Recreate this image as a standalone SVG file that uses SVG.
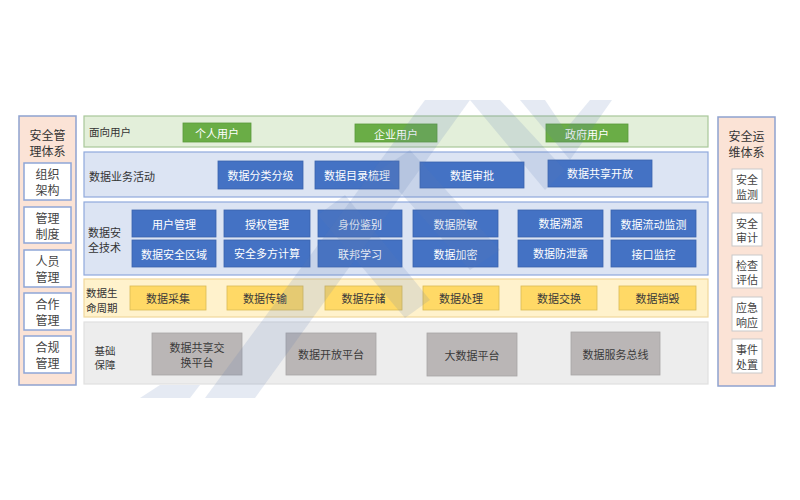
<svg xmlns="http://www.w3.org/2000/svg" width="800" height="500" viewBox="0 0 800 500">
<style>
text{font-family:"Noto Sans CJK SC","Noto Sans",sans-serif;text-anchor:middle;dominant-baseline:central}
.side{fill:#fbe3d6;stroke:#8fa2cf;stroke-width:1.5}
.sidettl{font-size:12px;fill:#333}
.lbox{fill:#ffffff;stroke:#8ea6d8;stroke-width:1.5}
.rbox{fill:#ffffff;stroke:#c9c9c9;stroke-width:1}
.st{font-size:12px;fill:#444}
.rt{font-size:11px;fill:#444}
.band{stroke-width:1.2}
.g{fill:#e3efda;stroke:#a8c79a}
.b{fill:#dce4f3;stroke:#8fa9dc}
.y{fill:#fff2cc;stroke:#f1d89c}
.k{fill:#ededed;stroke:#e0e0e0}
.lab{font-size:10.5px;fill:#333;text-anchor:start}
.gb{fill:#6aad46;stroke:#5b9a3b;stroke-width:0.8}
.bb{fill:#4472c4;stroke:#3a63ad;stroke-width:0.8}
.yb{fill:#ffd966;stroke:#d9bb55;stroke-width:0.8}
.kb{fill:#bab6b6;stroke:#a9a5a5;stroke-width:0.8}
.wt{font-size:11px;fill:#ffffff}
.dt{font-size:11px;fill:#3a3a3a}
.wm{fill:#5f7fb5;opacity:0.16}
</style>
<rect width="800" height="500" fill="#ffffff"/>

<g id="left-panel">
<rect class="side" x="19" y="116" width="57" height="269"/>
<text class="sidettl" x="47.5" y="134">安全管</text>
<text class="sidettl" x="47.5" y="150">理体系</text>
<g id="l1"><rect class="lbox" x="24" y="163" width="47" height="37"/><text class="st" x="47.5" y="173.5">组织</text><text class="st" x="47.5" y="189.5">架构</text></g>
<g id="l2"><rect class="lbox" x="24" y="207" width="47" height="36"/><text class="st" x="47.5" y="217">管理</text><text class="st" x="47.5" y="233">制度</text></g>
<g id="l3"><rect class="lbox" x="24" y="250" width="47" height="37"/><text class="st" x="47.5" y="260.5">人员</text><text class="st" x="47.5" y="276.5">管理</text></g>
<g id="l4"><rect class="lbox" x="24" y="293" width="47" height="37"/><text class="st" x="47.5" y="303.5">合作</text><text class="st" x="47.5" y="319.5">管理</text></g>
<g id="l5"><rect class="lbox" x="24" y="336" width="47" height="37"/><text class="st" x="47.5" y="346.5">合规</text><text class="st" x="47.5" y="362.5">管理</text></g>
</g>

<g id="right-panel">
<rect class="side" x="718" y="117" width="57" height="269"/>
<text class="sidettl" x="746.5" y="135">安全运</text>
<text class="sidettl" x="746.5" y="151">维体系</text>
<g id="r1"><rect class="rbox" x="732" y="169" width="30" height="34"/><text class="rt" x="747" y="179">安全</text><text class="rt" x="747" y="193.5">监测</text></g>
<g id="r2"><rect class="rbox" x="732" y="213" width="30" height="33"/><text class="rt" x="747" y="222.5">安全</text><text class="rt" x="747" y="237">审计</text></g>
<g id="r3"><rect class="rbox" x="732" y="255" width="30" height="33"/><text class="rt" x="747" y="264.5">检查</text><text class="rt" x="747" y="279">评估</text></g>
<g id="r4"><rect class="rbox" x="732" y="297" width="30" height="34"/><text class="rt" x="747" y="307">应急</text><text class="rt" x="747" y="321.5">响应</text></g>
<g id="r5"><rect class="rbox" x="732" y="339" width="30" height="34"/><text class="rt" x="747" y="349">事件</text><text class="rt" x="747" y="363.5">处置</text></g>
</g>

<g id="layer-users">
<rect class="band g" x="84" y="116" width="624" height="31"/>
<text class="lab" x="89" y="131">面向用户</text>
<g id="u1"><rect class="gb" x="183" y="123" width="68" height="19"/><text class="wt" x="217" y="133">个人用户</text></g>
<g id="u2"><rect class="gb" x="355" y="124" width="82" height="18"/><text class="wt" x="396" y="134">企业用户</text></g>
<g id="u3"><rect class="gb" x="546" y="124" width="82" height="18"/><text class="wt" x="587" y="134">政府用户</text></g>
</g>

<g id="layer-business">
<rect class="band b" x="84" y="152" width="624" height="45"/>
<text class="lab" x="89" y="176" style="font-size:11px">数据业务活动</text>
<g id="b1"><rect class="bb" x="218" y="161" width="85" height="28"/><text class="wt" x="260.5" y="175">数据分类分级</text></g>
<g id="b2"><rect class="bb" x="315" y="161" width="84" height="28"/><text class="wt" x="357" y="175">数据目录梳理</text></g>
<g id="b3"><rect class="bb" x="420" y="162" width="104" height="26"/><text class="wt" x="472" y="175">数据审批</text></g>
<g id="b4"><rect class="bb" x="548" y="160" width="104" height="27"/><text class="wt" x="600" y="173">数据共享开放</text></g>
</g>

<g id="layer-security">
<rect class="band b" x="84" y="202" width="624" height="73"/>
<text class="lab" x="88" y="232" style="font-size:11px">数据安</text>
<text class="lab" x="88" y="247" style="font-size:11px">全技术</text>
<g id="s1"><rect class="bb" x="132" y="210" width="84" height="27"/><text class="wt" x="174" y="223.5">用户管理</text></g>
<g id="s2"><rect class="bb" x="132" y="240" width="84" height="27"/><text class="wt" x="174" y="253.5">数据安全区域</text></g>
<g id="s3"><rect class="bb" x="224" y="210" width="86" height="27"/><text class="wt" x="267" y="223.5">授权管理</text></g>
<g id="s4"><rect class="bb" x="224" y="240" width="86" height="27"/><text class="wt" x="267" y="253">安全多方计算</text></g>
<g id="s5"><rect class="bb" x="318" y="210" width="84" height="27"/><text class="wt" x="360" y="223.5">身份鉴别</text></g>
<g id="s6"><rect class="bb" x="318" y="240" width="84" height="27"/><text class="wt" x="360" y="253.5">联邦学习</text></g>
<g id="s7"><rect class="bb" x="413" y="210" width="85" height="27"/><text class="wt" x="455.5" y="223.5">数据脱敏</text></g>
<g id="s8"><rect class="bb" x="413" y="240" width="85" height="27"/><text class="wt" x="455.5" y="253.5">数据加密</text></g>
<g id="s9"><rect class="bb" x="518" y="210" width="85" height="27"/><text class="wt" x="560.5" y="223">数据溯源</text></g>
<g id="s10"><rect class="bb" x="518" y="240" width="85" height="27"/><text class="wt" x="560.5" y="253">数据防泄露</text></g>
<g id="s11"><rect class="bb" x="611" y="210" width="85" height="27"/><text class="wt" x="653.5" y="224">数据流动监测</text></g>
<g id="s12"><rect class="bb" x="611" y="240" width="85" height="27"/><text class="wt" x="653.5" y="254">接口监控</text></g>
</g>

<g id="layer-lifecycle">
<rect class="band y" x="84" y="279" width="624" height="38"/>
<text class="lab" x="86" y="292" style="font-size:10.5px">数据生</text>
<text class="lab" x="86" y="307" style="font-size:10.5px">命周期</text>
<g id="c1"><rect class="yb" x="130" y="286" width="76" height="24"/><text class="dt" x="168" y="298">数据采集</text></g>
<g id="c2"><rect class="yb" x="227" y="286" width="76" height="24"/><text class="dt" x="265" y="298">数据传输</text></g>
<g id="c3"><rect class="yb" x="325" y="286" width="77" height="24"/><text class="dt" x="363.5" y="298">数据存储</text></g>
<g id="c4"><rect class="yb" x="423" y="286" width="76" height="24"/><text class="dt" x="461" y="298">数据处理</text></g>
<g id="c5"><rect class="yb" x="521" y="286" width="76" height="24"/><text class="dt" x="559" y="298">数据交换</text></g>
<g id="c6"><rect class="yb" x="619" y="286" width="77" height="24"/><text class="dt" x="657.5" y="298">数据销毁</text></g>
</g>

<g id="layer-infra">
<rect class="band k" x="84" y="322" width="624" height="62"/>
<text class="dt" x="105" y="350" style="font-size:10.5px">基础</text>
<text class="dt" x="105" y="364" style="font-size:10.5px">保障</text>
<g id="i1"><rect class="kb" x="152" y="333" width="90" height="42"/><text class="dt" x="197" y="347">数据共享交</text><text class="dt" x="197" y="362">换平台</text></g>
<g id="i2"><rect class="kb" x="286" y="333" width="90" height="42"/><text class="dt" x="331" y="354">数据开放平台</text></g>
<g id="i3"><rect class="kb" x="427" y="333" width="90" height="43"/><text class="dt" x="472" y="355">大数据平台</text></g>
<g id="i4"><rect class="kb" x="571" y="332" width="89" height="43"/><text class="dt" x="615.5" y="354">数据服务总线</text></g>
</g>

<g id="watermark">
<polygon class="wm" points="140,398 190,398 200,385 160,385"/>
<polygon class="wm" points="205,398 255,398 470,100 425,100"/>
<polygon class="wm" points="318,215 345,195 430,300 405,318"/>
<polygon class="wm" points="380,170 410,150 500,250 470,270"/>
<polygon class="wm" points="470,100 500,100 565,170 545,190"/>
<polygon class="wm" points="520,100 545,100 565,130 590,100 612,100 570,160"/>
</g>
</svg>
